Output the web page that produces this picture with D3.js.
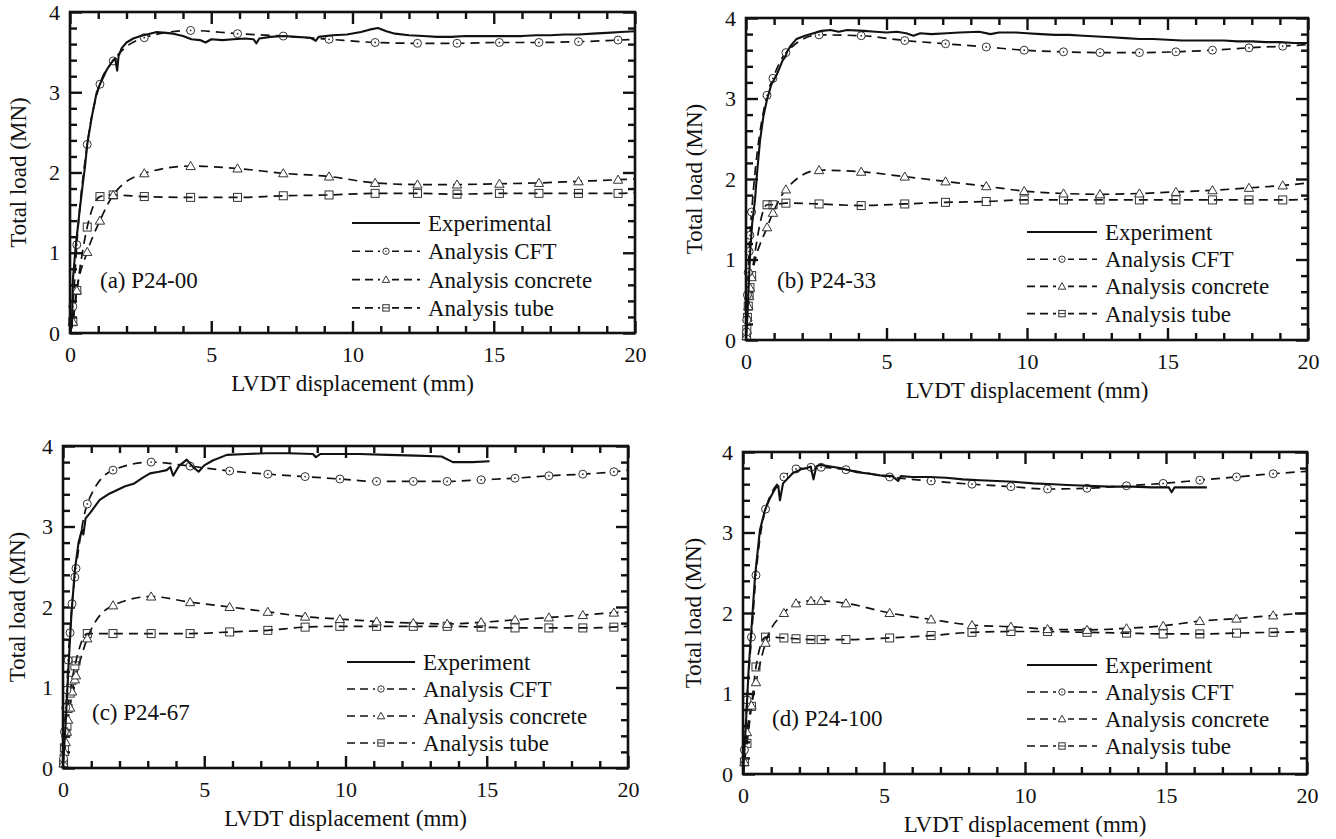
<!DOCTYPE html>
<html>
<head>
<meta charset="utf-8">
<script src="https://cdn.jsdelivr.net/npm/d3@7"></script>
<style>
  body { margin: 0; background: #fff; }
  svg { display: block; }
  svg text { font-family: "Liberation Serif", "DejaVu Serif", serif; }
</style>
</head>
<body>
<svg id="chart" width="1336" height="839" font-family="Liberation Serif, DejaVu Serif, serif"></svg>
<script>
// ---------- data ----------
const xMajor = [0, 5, 10, 15, 20];
const yMajor = [0, 1, 2, 3, 4];
const seriesNames = ["Analysis CFT", "Analysis concrete", "Analysis tube"];

// (a) P24-00
const expA = [[0,0],[0.07,0.1],[0.1,0.66],[0.2,1.07],[0.33,1.49],[0.45,1.85],[0.53,2.07],[0.61,2.35],[0.77,2.69],[0.94,2.99],[1.06,3.1],[1.3,3.28],[1.53,3.4],[1.6,3.42],[1.67,3.27],[1.72,3.45],[1.83,3.55],[2.0,3.62],[2.24,3.67],[2.5,3.7],[2.72,3.72],[3.07,3.75],[3.4,3.74],[3.65,3.73],[4.0,3.7],[4.3,3.66],[4.6,3.65],[4.8,3.62],[5.0,3.66],[5.4,3.65],[5.78,3.66],[6.2,3.67],[6.5,3.66],[6.6,3.61],[6.7,3.67],[7.1,3.69],[7.55,3.7],[8.0,3.69],[8.5,3.68],[8.7,3.64],[8.8,3.69],[9.3,3.71],[9.8,3.72],[10.3,3.75],[10.6,3.78],[10.9,3.8],[11.2,3.76],[11.5,3.73],[12,3.71],[12.5,3.7],[13,3.69],[13.5,3.69],[14,3.7],[14.5,3.7],[15,3.7],[15.5,3.7],[16,3.7],[16.5,3.71],[17,3.71],[17.5,3.72],[18,3.72],[18.5,3.73],[19,3.74],[19.5,3.75],[20,3.76]];
const anaXA  = [0, 0.1, 0.24, 0.61, 1.06, 1.53, 2.63, 4.27, 5.93, 7.55, 9.17, 10.8, 12.3, 13.7, 15.2, 16.6, 18.0, 19.4, 20];
const cftA   = [0, 0.33, 1.1, 2.35, 3.1, 3.39, 3.68, 3.77, 3.73, 3.7, 3.66, 3.62, 3.61, 3.61, 3.62, 3.62, 3.63, 3.65, 3.66];
const concA  = [0, 0.14, 0.53, 1.01, 1.4, 1.72, 1.99, 2.08, 2.05, 1.99, 1.95, 1.87, 1.85, 1.85, 1.86, 1.87, 1.89, 1.91, 1.92];
const tubeA  = [0, 0.14, 0.53, 1.32, 1.7, 1.72, 1.7, 1.69, 1.69, 1.71, 1.72, 1.74, 1.74, 1.73, 1.74, 1.74, 1.74, 1.74, 1.75];

// (b) P24-33
const expB = [[0,0],[0.05,0.3],[0.1,0.7],[0.15,1.1],[0.22,1.45],[0.32,1.74],[0.4,2.1],[0.5,2.48],[0.62,2.78],[0.75,2.99],[0.9,3.17],[1.1,3.3],[1.3,3.47],[1.4,3.52],[1.46,3.58],[1.6,3.66],[1.8,3.74],[2.1,3.78],[2.4,3.81],[2.7,3.84],[3.0,3.85],[3.3,3.83],[3.6,3.85],[4.2,3.84],[4.6,3.83],[5.0,3.82],[5.37,3.83],[5.7,3.81],[5.96,3.78],[6.2,3.81],[6.6,3.8],[7.15,3.81],[7.6,3.82],[8.3,3.83],[8.7,3.8],[9.0,3.82],[9.6,3.82],[10,3.81],[10.5,3.8],[11,3.79],[11.5,3.79],[12,3.78],[12.5,3.77],[13,3.76],[13.5,3.75],[14,3.74],[14.5,3.74],[15,3.73],[15.5,3.72],[16,3.72],[16.5,3.72],[17,3.72],[17.5,3.71],[18,3.71],[18.5,3.7],[19,3.7],[19.5,3.69],[20,3.69]];
const anaXB  = [0, 0.02, 0.03, 0.05, 0.08, 0.11, 0.14, 0.2, 0.75, 0.96, 1.42, 2.6, 4.1, 5.65, 7.1, 8.55, 9.9, 11.3, 12.6, 14.0, 15.3, 16.6, 17.9, 19.1, 20];
const cftB   = [0, 0.1, 0.25, 0.56, 0.84, 1.1, 1.3, 1.59, 3.04, 3.25, 3.57, 3.79, 3.78, 3.72, 3.68, 3.64, 3.6, 3.58, 3.57, 3.57, 3.58, 3.6, 3.63, 3.65, 3.67];
const concB  = [0, 0.05, 0.12, 0.28, 0.42, 0.55, 0.65, 0.78, 1.4, 1.58, 1.87, 2.11, 2.09, 2.03, 1.97, 1.91, 1.85, 1.82, 1.81, 1.82, 1.84, 1.86, 1.89, 1.92, 1.95];
const tubeB  = [0, 0.05, 0.13, 0.28, 0.42, 0.55, 0.65, 0.8, 1.68, 1.68, 1.7, 1.69, 1.67, 1.69, 1.71, 1.72, 1.74, 1.74, 1.74, 1.74, 1.74, 1.74, 1.74, 1.74, 1.75];

// (c) P24-67
const expC = [[0,0],[0.1,0.6],[0.2,1.3],[0.3,1.92],[0.42,2.46],[0.55,2.8],[0.67,2.96],[0.72,2.9],[0.8,3.1],[0.96,3.17],[1.3,3.33],[1.6,3.4],[1.9,3.45],[2.2,3.5],[2.5,3.53],[2.8,3.6],[3.08,3.66],[3.4,3.68],[3.67,3.7],[3.8,3.74],[3.9,3.63],[4.1,3.75],[4.38,3.83],[4.6,3.74],[4.8,3.68],[5.0,3.76],[5.3,3.82],[5.8,3.89],[6.5,3.9],[7.2,3.91],[8,3.91],[8.85,3.9],[8.95,3.86],[9.1,3.9],[9.6,3.9],[10.5,3.9],[11.5,3.89],[12.5,3.88],[13.4,3.87],[13.8,3.8],[14.5,3.8],[15.1,3.81]];
const anaXC  = [0, 0.02, 0.05, 0.1, 0.14, 0.18, 0.25, 0.32, 0.42, 0.46, 0.86, 1.77, 3.12, 4.5, 5.9, 7.25, 8.57, 9.8, 11.1, 12.4, 13.6, 14.8, 16.0, 17.2, 18.4, 19.5, 20];
const cftC   = [0, 0.12, 0.45, 0.75, 0.97, 1.34, 1.68, 2.04, 2.37, 2.48, 3.28, 3.7, 3.8, 3.75, 3.69, 3.65, 3.62, 3.59, 3.56, 3.56, 3.56, 3.58, 3.6, 3.63, 3.65, 3.68, 3.7];
const concC  = [0, 0.06, 0.2, 0.32, 0.45, 0.6, 0.75, 0.95, 1.1, 1.15, 1.61, 2.02, 2.13, 2.06, 2.0, 1.94, 1.88, 1.85, 1.82, 1.8, 1.79, 1.81, 1.84, 1.87, 1.9, 1.93, 1.94];
const tubeC  = [0, 0.06, 0.25, 0.43, 0.52, 0.74, 0.93, 1.09, 1.27, 1.33, 1.67, 1.67, 1.67, 1.67, 1.69, 1.71, 1.75, 1.76, 1.76, 1.76, 1.76, 1.75, 1.74, 1.74, 1.74, 1.75, 1.76];

// (d) P24-100
const expD = [[0,0],[0.1,0.6],[0.2,1.3],[0.32,1.91],[0.43,2.47],[0.6,3.03],[0.78,3.28],[0.96,3.43],[1.15,3.55],[1.25,3.58],[1.31,3.4],[1.42,3.61],[1.77,3.74],[2.1,3.79],[2.27,3.8],[2.4,3.82],[2.5,3.66],[2.6,3.82],[2.73,3.84],[3.1,3.82],[3.44,3.8],[4.04,3.75],[4.5,3.73],[4.86,3.71],[5.3,3.7],[5.5,3.64],[5.6,3.7],[6.0,3.69],[6.6,3.69],[7.2,3.68],[7.8,3.66],[8.4,3.65],[9.0,3.64],[9.6,3.63],[10.3,3.61],[11.0,3.6],[11.5,3.59],[12.2,3.58],[13.0,3.57],[13.8,3.57],[14.5,3.56],[15.1,3.56],[15.2,3.5],[15.3,3.56],[16.0,3.56],[16.45,3.56]];
const anaXD  = [0, 0.05, 0.14, 0.3, 0.46, 0.8, 1.45, 1.88, 2.41, 2.77, 3.65, 5.2, 6.67, 8.12, 9.5, 10.8, 12.2, 13.6, 14.9, 16.2, 17.5, 18.8, 20];
const cftD   = [0, 0.3, 0.92, 1.7, 2.47, 3.29, 3.69, 3.79, 3.81, 3.81, 3.78, 3.69, 3.64, 3.6, 3.57, 3.54, 3.55, 3.58, 3.61, 3.65, 3.69, 3.73, 3.76];
const concD  = [0, 0.15, 0.52, 0.85, 1.14, 1.63, 2.0, 2.12, 2.15, 2.15, 2.12, 2.0, 1.92, 1.85, 1.83, 1.8, 1.79, 1.81, 1.84, 1.9, 1.93, 1.97, 2.0];
const tubeD  = [0, 0.15, 0.38, 0.84, 1.33, 1.7, 1.69, 1.68, 1.67, 1.67, 1.67, 1.69, 1.72, 1.76, 1.77, 1.77, 1.76, 1.75, 1.74, 1.74, 1.75, 1.76, 1.77];

// ---------- layout ----------
const panels = [
  { left: 70,  top: 12,  right: 635,  bottom: 333, exp: expA, ax: anaXA, ana: [cftA, concA, tubeA], expName: "Experimental",
    label: "(a) P24-00", lab: [100, 280], leg: { x0: 352, x1: 420, tx: 428, y0: 223, dy: 28.3 }, yt: -52 },
  { left: 746, top: 18,  right: 1308, bottom: 340, exp: expB, ax: anaXB, ana: [cftB, concB, tubeB], expName: "Experiment",
    label: "(b) P24-33", lab: [777, 280], leg: { x0: 1027, x1: 1097, tx: 1105, y0: 232, dy: 27.2 }, yt: -52 },
  { left: 63,  top: 446, right: 628,  bottom: 768, exp: expC, ax: anaXC, ana: [cftC, concC, tubeC], expName: "Experiment",
    label: "(c) P24-67", lab: [92, 712], leg: { x0: 347, x1: 415, tx: 423, y0: 662, dy: 27 }, yt: -46 },
  { left: 743, top: 452, right: 1307, bottom: 774, exp: expD, ax: anaXD, ana: [cftD, concD, tubeD], expName: "Experiment",
    label: "(d) P24-100", lab: [772, 718], leg: { x0: 1027, x1: 1097, tx: 1105, y0: 665, dy: 27 }, yt: -50 }
];

const svg = d3.select("#chart");
const serif = "Liberation Serif, DejaVu Serif, serif";
const ink = "#111";
const markInk = "#333";

function drawMarker(g, kind, cx, cy, s) {
  if (kind === 0) {
    g.append("circle").attr("cx", cx).attr("cy", cy).attr("r", 4 * s)
      .attr("fill", "#fff").attr("stroke", markInk).attr("stroke-width", 1);
    g.append("circle").attr("cx", cx).attr("cy", cy).attr("r", 0.9 * s).attr("fill", markInk);
  } else if (kind === 1) {
    g.append("path").attr("transform", `translate(${cx},${cy + 0.8 * s})`)
      .attr("d", d3.symbol(d3.symbolTriangle, 38 * s * s)())
      .attr("fill", "#fff").attr("stroke", markInk).attr("stroke-width", 1);
  } else {
    const h = 4 * s;
    g.append("rect").attr("x", cx - h).attr("y", cy - h).attr("width", 2 * h).attr("height", 2 * h)
      .attr("fill", "none").attr("stroke", markInk).attr("stroke-width", 1);
  }
}

function drawPanel(p) {
  const w = p.right - p.left, h = p.bottom - p.top;
  const x = d3.scaleLinear().domain([0, 20]).range([0, w]);
  const y = d3.scaleLinear().domain([0, 4]).range([h, 0]);
  const g = svg.append("g").attr("transform", `translate(${p.left},${p.top})`);

  const style = sel => {
    sel.attr("font-family", serif);
    sel.select(".domain").remove();
    sel.selectAll("line").attr("stroke", ink).attr("stroke-width", 2.4);
    sel.selectAll("text").attr("font-size", 22).attr("fill", ink).attr("font-family", serif);
  };
  const minorX = d3.range(0, 21, 1).filter(v => v % 5 !== 0);
  const minorY = d3.range(0, 4.01, 0.2).filter(v => Math.abs(v - Math.round(v)) > 0.01);

  // inward ticks, all four sides
  g.append("g").attr("transform", `translate(0,${h})`)
    .call(d3.axisBottom(x).tickValues(xMajor).tickSize(-12).tickPadding(13).tickFormat(d3.format("d"))).call(style);
  g.append("g").attr("transform", `translate(0,${h})`)
    .call(d3.axisBottom(x).tickValues(minorX).tickSize(-7).tickFormat("")).call(style);
  g.append("g").call(d3.axisTop(x).tickValues(xMajor).tickSize(-12).tickFormat("")).call(style);
  g.append("g").call(d3.axisTop(x).tickValues(minorX).tickSize(-7).tickFormat("")).call(style);
  g.append("g").call(d3.axisLeft(y).tickValues(yMajor).tickSize(-12).tickPadding(10).tickFormat(d3.format("d"))).call(style);
  g.append("g").call(d3.axisLeft(y).tickValues(minorY).tickSize(-7).tickFormat("")).call(style);
  g.append("g").attr("transform", `translate(${w},0)`)
    .call(d3.axisRight(y).tickValues(yMajor).tickSize(-12).tickFormat("")).call(style);
  g.append("g").attr("transform", `translate(${w},0)`)
    .call(d3.axisRight(y).tickValues(minorY).tickSize(-7).tickFormat("")).call(style);

  // analysis curves (dashed) + markers
  const anaLine = d3.line().x(d => x(d[0])).y(d => y(d[1])).curve(d3.curveMonotoneX);
  p.ana.forEach((vals, k) => {
    const pts = p.ax.map((xv, i) => [xv, vals[i]]);
    g.append("path").datum(pts).attr("d", anaLine)
      .attr("fill", "none").attr("stroke", ink).attr("stroke-width", 1.7).attr("stroke-dasharray", "9,6");
  });
  [2, 1, 0].forEach(k => {
    const mg = g.append("g");
    p.ax.forEach((xv, i) => {
      if (xv === 0 || xv === 20) return;
      drawMarker(mg, k, x(xv), y(p.ana[k][i]), 1);
    });
  });

  // experimental curve
  g.append("path").datum(p.exp)
    .attr("d", d3.line().x(d => x(d[0])).y(d => y(d[1])))
    .attr("fill", "none").attr("stroke", ink).attr("stroke-width", 2.1).attr("stroke-linejoin", "round");

  // frame
  g.append("rect").attr("width", w).attr("height", h)
    .attr("fill", "none").attr("stroke", ink).attr("stroke-width", 2.6);

  // axis titles
  svg.append("text").attr("x", (p.left + p.right) / 2).attr("y", p.bottom + 58)
    .attr("text-anchor", "middle").attr("font-size", 23).attr("font-family", serif).attr("fill", ink)
    .text("LVDT displacement (mm)");
  svg.append("text")
    .attr("transform", `translate(${p.left + p.yt},${(p.top + p.bottom) / 2}) rotate(-90)`)
    .attr("dy", "0.35em").attr("text-anchor", "middle").attr("font-size", 23).attr("font-family", serif).attr("fill", ink)
    .text("Total load (MN)");

  // panel label
  svg.append("text").attr("x", p.lab[0]).attr("y", p.lab[1]).attr("dy", "0.35em")
    .attr("font-size", 23).attr("font-family", serif).attr("fill", ink).text(p.label);

  // legend
  const L = p.leg;
  const lg = svg.append("g");
  [p.expName].concat(seriesNames).forEach((name, i) => {
    const yy = L.y0 + i * L.dy;
    lg.append("line").attr("x1", L.x0).attr("x2", L.x1).attr("y1", yy).attr("y2", yy)
      .attr("stroke", ink).attr("stroke-width", i === 0 ? 2 : 1.6)
      .attr("stroke-dasharray", i === 0 ? null : "8,5");
    if (i > 0) {
      const cx = (L.x0 + L.x1) / 2;
      lg.append("rect").attr("x", cx - 6).attr("y", yy - 6).attr("width", 12).attr("height", 12).attr("fill", "#fff");
      drawMarker(lg, i - 1, cx, yy, 0.8);
      if (i === 3) lg.append("line").attr("x1", cx - 3.2).attr("x2", cx + 3.2).attr("y1", yy).attr("y2", yy)
        .attr("stroke", markInk).attr("stroke-width", 1);
    }
    lg.append("text").attr("x", L.tx).attr("y", yy).attr("dy", "0.35em")
      .attr("font-size", 23).attr("font-family", serif).attr("fill", ink).text(name);
  });
}

panels.forEach(drawPanel);
</script>
</body>
</html>
